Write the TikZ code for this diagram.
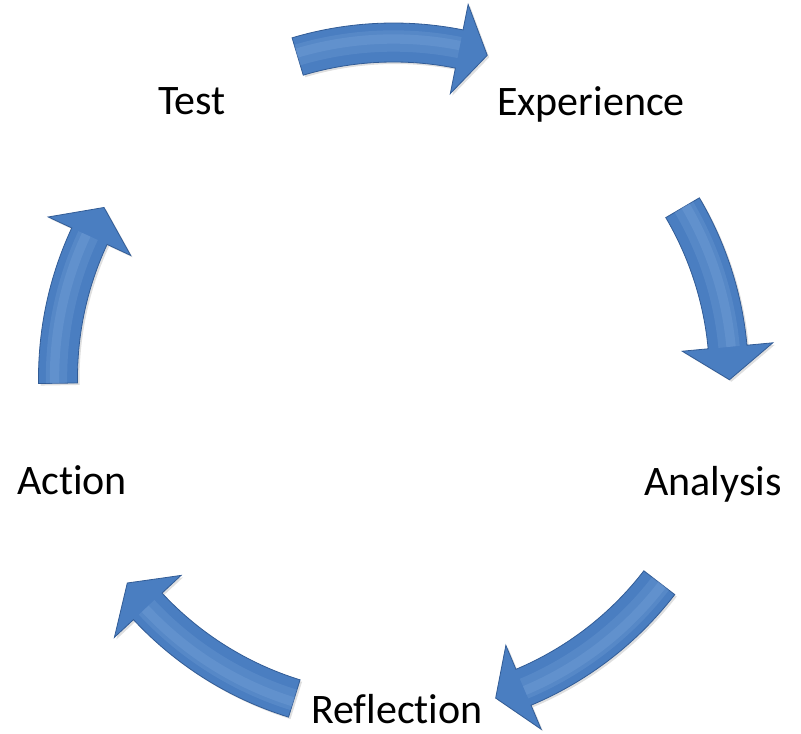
\documentclass[tikz,border=0pt]{standalone}
\usepackage{fontspec}
\setmainfont[Ligatures=NoCommon]{Carlito}
\usetikzlibrary{shadows}

\definecolor{cycleblue}{RGB}{74,126,193}
\definecolor{cycleedge}{RGB}{50,92,150}
\definecolor{cyclelight}{RGB}{125,166,220}

% #1 tail angle, #2 head base angle, #3 tip angle
\newcommand{\cyclearrow}[3]{%
  \fill[arrowbody] (#1:316) arc[start angle=#1,end angle=#2,radius=316]
    -- (#2:290) -- (#3:336) -- (#2:381) -- (#2:355)
    arc[start angle=#2,end angle=#1,radius=355] -- cycle;
  \draw[arrowshine,line width=16pt,opacity=0.25] (#1:337) arc[start angle=#1,end angle=#2,radius=337];
  \draw[arrowshine,line width=7pt,opacity=0.3] (#1:339) arc[start angle=#1,end angle=#2,radius=339];
}

\begin{document}
\begin{tikzpicture}[
   x=0.75pt,y=0.75pt,
   stage/.style={anchor=base,inner sep=0pt,font=\fontsize{31.5}{36}\selectfont},
   arrowbody/.style={fill=cycleblue,draw=cycleedge,line width=0.6pt,line join=miter,
     drop shadow={opacity=0.25,shadow xshift=1.5pt,shadow yshift=-1.5pt}},
   arrowshine/.style={cyclelight,line cap=butt}]
\useasboundingbox (0,0) rectangle (801,734);
\coordinate (c) at (393.5,356);
\node[stage] (test) at (192,619) {Test};
\node[stage] (experience) at (591,618) {Experience};
\node[stage] (analysis) at (713,238) {Analysis};
\node[stage] (reflection) at (397,10) {Reflection};
\node[stage] (action) at (72,239) {Action};
\begin{scope}[shift={(c)}]
\cyclearrow{106.6}{78.7}{73.8}
\cyclearrow{30.5}{5.3}{-0.3}
\cyclearrow{-37.6}{-67.2}{-72.3}
\cyclearrow{-107.2}{-137.1}{-142.4}
\cyclearrow{180.9}{155}{149.5}
\end{scope}
\end{tikzpicture}
\end{document}
